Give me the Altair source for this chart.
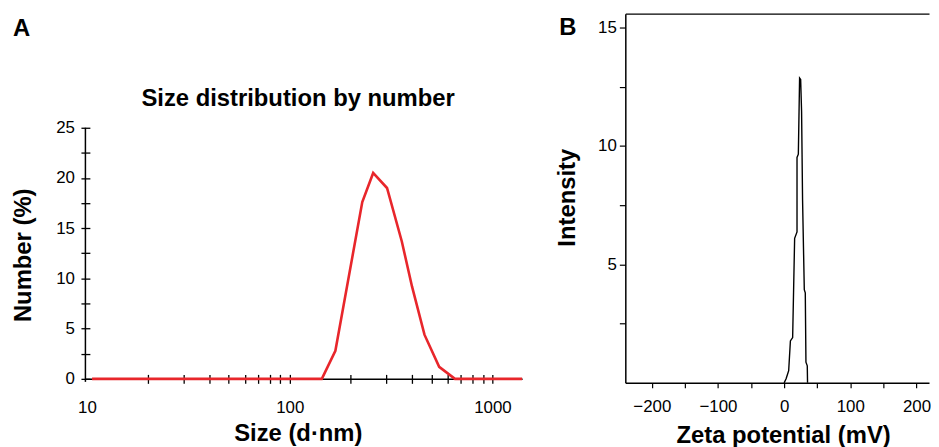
import altair as alt
import pandas as pd

FONT = "Liberation Sans, Arial, Helvetica, sans-serif"
RED = "#e8262b"

# ---------------- Panel A: size distribution by number ----------------
size_nm = [10.6, 144, 168, 228, 258, 302, 357, 401, 462, 546, 653, 1400]
number_pct = [0, 0, 2.8, 17.6, 20.5, 19.0, 13.7, 9.2, 4.4, 1.2, 0, 0]

size_labels = [10, 100, 1000]
size_ticks = [20, 30, 40, 50, 60, 70, 80, 90, 100,
              200, 300, 400, 500, 600, 700, 800, 900, 1000]
number_labels = [0, 5, 10, 15, 20, 25]
number_ticks = [0, 2.5, 5, 7.5, 10, 12.5, 15, 17.5, 20, 22.5, 25]

# ---------------- Panel B: zeta potential ----------------
zeta_mv = [0.0, 3.0, 6.9, 9.5, 12.9, 15.9, 19.5, 19.5, 21.5, 23.4, 25.0,
           26.4, 27.9, 30.5, 32.0, 33.0, 35.0, 35.4]
zeta_intensity = [0, 0.17, 0.51, 1.77, 1.91, 6.1, 6.37, 9.51, 9.65, 12.86,
                  12.8, 11.46, 7.7, 3.93, 3.8, 0.87, 0.72, 0]
zeta_ticks = [-200, -150, -100, -50, 0, 50, 100, 150, 200]
intensity_ticks = [2.5, 5, 7.5, 10, 12.5, 15]

panel_a_letter = ["A"]
panel_b_letter = ["B"]
panel_a_heading = ["Size distribution by number"]

dfA = pd.DataFrame({"size": size_nm, "number": number_pct})
dfB = pd.DataFrame({"zeta": zeta_mv, "intensity": zeta_intensity,
                    "i": list(range(len(zeta_mv)))})

# ---------- Panel A ----------
xscaleA = alt.Scale(type="log", domain=[9.83, 1400], nice=False)
yscaleA = alt.Scale(domain=[0, 36.36], nice=False, zero=False)

lineA = alt.Chart(dfA).mark_line(color=RED, strokeWidth=2.6).encode(
    x=alt.X("size:Q", scale=xscaleA,
            axis=alt.Axis(orient="bottom", values=size_labels, format="d",
                          ticks=False, tickSize=0, domain=True, domainWidth=1.5,
                          labelFontSize=17, labelPadding=21,
                          title="Size (d·nm)", titleFontSize=24, titleFontWeight="bold",
                          titleX=214, titleY=62, titleAlign="center",
                          titleBaseline="alphabetic")),
    y=alt.Y("number:Q", scale=yscaleA,
            axis=alt.Axis(orient="left", values=number_labels, ticks=False,
                          tickSize=0, domain=False, labelFontSize=17,
                          labelPadding=11, title="Number (%)", titleFontSize=24,
                          titleFontWeight="bold", titleAngle=-90, titleX=-62,
                          titleY=243, titleAlign="center", titleBaseline="middle")),
)

ticksA = alt.Chart(dfA).mark_line(opacity=0).encode(
    x=alt.X("size:Q", scale=xscaleA,
            axis=alt.Axis(orient="bottom", values=size_ticks, labels=False,
                          domain=False, ticks=True, tickSize=9, tickWidth=1.3,
                          offset=-4.5, title=None)),
    y=alt.Y("number:Q", scale=yscaleA,
            axis=alt.Axis(orient="left", values=number_ticks, labels=False,
                          domain=False, ticks=True, tickSize=9, tickWidth=1.3,
                          offset=-4.5, title=None)),
)

yAxisLineA = alt.Chart(pd.DataFrame({"a": [0]})).mark_rule(
    color="black", strokeWidth=1.5).encode(
    x=alt.value(0),
    y=alt.Y(datum=-0.3, scale=yscaleA, axis=None),
    y2=alt.Y2(datum=25),
)

letterA = alt.Chart(pd.DataFrame({"label": panel_a_letter})).mark_text(
    font=FONT, fontSize=24, fontWeight="bold", align="left",
    baseline="alphabetic", color="black").encode(
    text="label:N", x=alt.value(-73), y=alt.value(22.3))

headingA = alt.Chart(pd.DataFrame({"label": panel_a_heading})).mark_text(
    font=FONT, fontSize=24, fontWeight="bold", align="center",
    baseline="alphabetic", color="black").encode(
    text="label:N", x=alt.value(214.3), y=alt.value(93))

panelA = alt.layer(lineA, ticksA, yAxisLineA, letterA, headingA).resolve_axis(
    x="independent", y="independent").properties(width=440, height=368)

# ---------- Panel B ----------
xscaleB = alt.Scale(domain=[-240, 219], nice=False, zero=False)
yscaleB = alt.Scale(domain=[0, 15.58], nice=False, zero=False)

yB = alt.Y("intensity:Q", scale=yscaleB,
           axis=alt.Axis(orient="left", values=intensity_ticks,
                         labelExpr="datum.value % 5 == 0 ? datum.label : ''",
                         tickSize=6, tickWidth=1.2, domain=True, domainWidth=1.5,
                         labelFontSize=17, labelPadding=3,
                         title="Intensity", titleFontSize=24, titleFontWeight="bold",
                         titleAngle=-90, titleX=-58, titleY=185,
                         titleAlign="center", titleBaseline="middle"))

lineB = alt.Chart(dfB).mark_line(color="black", strokeWidth=1.4).encode(
    x=alt.X("zeta:Q", scale=xscaleB,
            axis=alt.Axis(orient="bottom", values=zeta_ticks,
                          labelExpr="datum.value % 100 == 0 ? datum.label : ''",
                          tickSize=5, tickWidth=1.2, domain=True, domainWidth=1.5,
                          labelFontSize=17, labelPadding=11,
                          title="Zeta potential (mV)", titleFontSize=24,
                          titleFontWeight="bold", titleX=159, titleY=60,
                          titleAlign="center", titleBaseline="alphabetic")),
    y=yB,
    order="i:Q",
)

frameB = alt.Chart(dfB).mark_line(opacity=0).encode(
    x=alt.X("zeta:Q", scale=xscaleB,
            axis=alt.Axis(orient="top", values=zeta_ticks, labels=False,
                          ticks=False, domain=True, domainWidth=1.5, title=None)),
    y=yB,
    order="i:Q",
)

letterB = alt.Chart(pd.DataFrame({"label": panel_b_letter})).mark_text(
    font=FONT, fontSize=24, fontWeight="bold", align="left",
    baseline="alphabetic", color="black").encode(
    text="label:N", x=alt.value(-66.6), y=alt.value(21.3))

panelB = alt.layer(lineB, frameB, letterB).resolve_axis(
    x="independent").properties(width=306, height=372)

chart = alt.hconcat(panelA, panelB, spacing=104, bounds="flush").properties(
    padding={"left": 4, "top": 4, "right": 0, "bottom": 0},
    background="white",
).configure_view(strokeWidth=0).configure_axis(
    grid=False, labelFont=FONT, titleFont=FONT, labelColor="black",
    titleColor="black", domainColor="black", tickColor="black",
)

chart.save("out.html", embed_options={"renderer": "svg", "actions": False})
